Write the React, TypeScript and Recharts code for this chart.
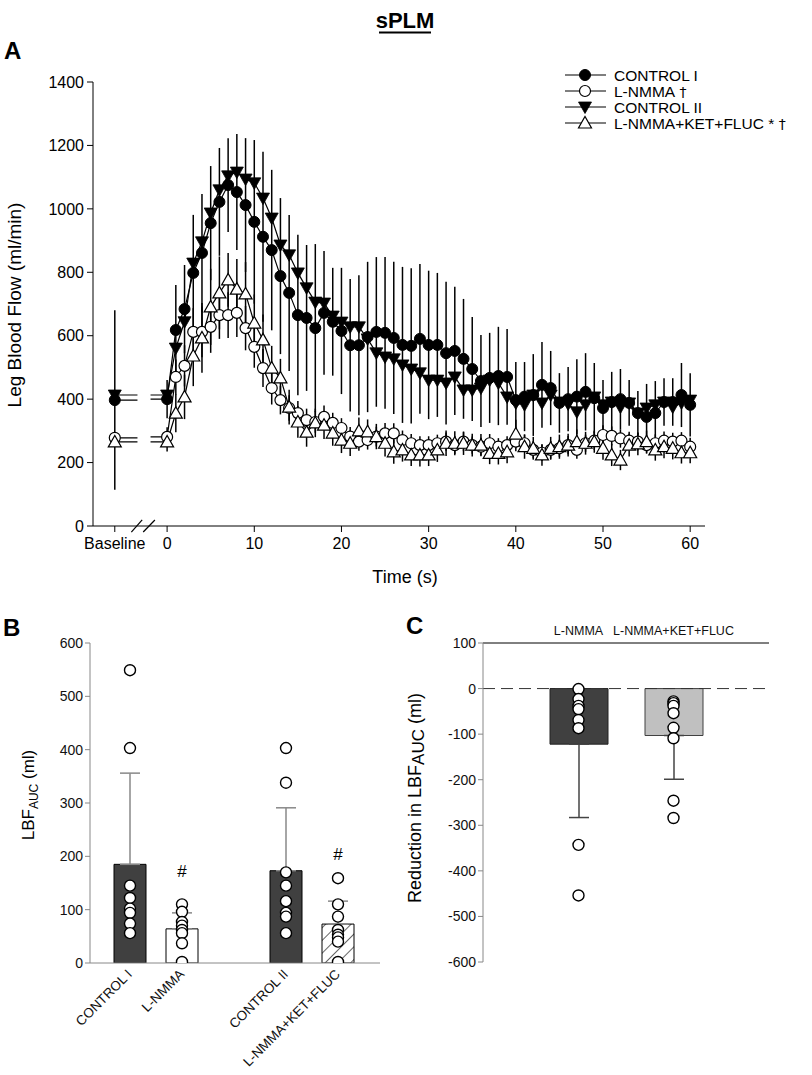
import React from 'react';
import { ComposedChart, Line, Bar, XAxis, YAxis, ErrorBar, ReferenceLine, Cell } from 'recharts';

const FONT = '"Liberation Sans", Arial, Helvetica, sans-serif';

// ---------------- Panel A data ----------------
const timeSec = [0,1,2,3,4,5,6,7,8,9,10,11,12,13,14,15,16,17,18,19,20,21,22,23,24,25,26,27,28,29,30,31,32,33,34,35,36,37,38,39,40,41,42,43,44,45,46,47,48,49,50,51,52,53,54,55,56,57,58,59,60];

const controlI = [400,618,684,798,861,955,1022,1075,1053,1012, 959,912,870,788,735,665,656,624,672,644, 615,570,570,596,612,609,593,571,568,590, 571,571,545,552,527,495,457,467,473,470, 397,408,413,445,435,388,400,408,423,403, 372,391,400,388,356,344,356,391,391,413,382];
const controlIErr = [60,142,139,183,186,180,170,148,183,211, 258,268,253,246,246,253,230,265,195,170, 199,209,221,237,236,239,240,246,245,236, 234,227,225,202,189,164,145,142,155,151, 120,109,129,135,117,94,101,118,122,111, 88,95,95,72,70,104,101,75,75,101,100];

const lnmma = [281,470,505,612,612,628,665,665,672,624, 565,498,435,397,372,356,334,328,344,325, 309,282,266,271,282,292,292,271,261,255, 255,261,266,255,266,255,250,261,250,255, 266,261,240,231,240,245,255,240,261,269, 287,284,276,269,266,255,261,269,266,269,250];
const lnmmaErr = [30,55,65,75,80,82,75,72,76,70, 66,60,52,45,40,38,36,34,36,32, 31,30,29,30,31,33,32,30,29,28, 28,27,29,28,30,27,28,29,27,28, 30,28,27,26,28,27,29,28,27,29, 31,30,29,28,28,27,28,29,28,27,28];

const controlII = [413,561,644,829,896,987,1060,1104,1116,1094, 1082,1034,971,886,855,798,751,706,703,662, 643,628,628,590,546,533,527,508,495,483, 460,460,451,470,429,429,435,460,451,407, 388,382,413,388,413,391,385,360,382,407, 382,391,375,388,356,372,382,391,375,388,397];

const lnmmaKet = [265,356,407,536,593,691,735,776,747,732, 640,587,498,467,375,328,296,325,318,293, 271,261,300,297,282,261,234,240,224,224, 224,240,261,261,261,255,255,229,229,234, 290,250,245,224,245,250,255,266,261,266, 245,224,208,255,259,266,240,250,245,231,231];
const lnmmaKetErr = [30,60,70,95,110,120,115,85,95,100, 90,80,70,60,55,50,46,45,44,40, 41,40,42,39,40,42,38,37,35,36, 35,38,40,38,37,36,35,34,35,36, 45,38,36,34,36,38,36,38,36,35, 36,35,32,36,36,35,34,36,35,34,33];

const baselineValues = [397, 278, 413, 265]; // CONTROL I, L-NMMA, CONTROL II, L-NMMA+KET+FLUC
const baselineErrors = [283, 0, 0, 0];
const baselinePos = -6;
const xTicksA = [-6, 0, 10, 20, 30, 40, 50, 60];
const yTicksA = [0, 200, 400, 600, 800, 1000, 1200, 1400];
const seriesLabelsA = ['CONTROL I', 'L-NMMA', 'CONTROL II', 'L-NMMA+KET+FLUC *'];
const seriesMarksA = ['', ' \u2020', '', ' \u2020'];

// ---------------- Panel B data ----------------
const catsB = ['CONTROL I', 'L-NMMA', '', 'CONTROL II', 'L-NMMA+KET+FLUC'];
const meanB = [185, 64, null, 173, 73];
const errB = [171, 30, null, 118, 43];
const aucControlI = [549, 403, 145, 122, 102, 94, 74, 56];
const aucLnmma = [110, 96, 77, 70, 62, 56, 37, 2];
const aucControlII = [403, 338, 170, 145, 116, 94, 87, 56];
const aucLnmmaKet = [159, 110, 87, 62, 53, 48, 40, 2];
const hashB = [null, 172, null, null, 204];
const yTicksB = [0, 100, 200, 300, 400, 500, 600];

// ---------------- Panel C data ----------------
const catsC = ['L-NMMA', 'L-NMMA+KET+FLUC'];
const meanC = [-122, -103];
const errC = [161, 96];
const redLnmma = [-1, -23, -38, -45, -69, -87, -343, -454];
const redLnmmaKet = [-28, -32, -38, -54, -86, -109, -246, -284];
const yTicksC = [-600, -500, -400, -300, -200, -100, 0, 100];

// ---------------- build tables ----------------
const rowsA = timeSec.map((t, i) => ({
  t,
  ci: controlI[i], ciE: controlIErr[i],
  ln: lnmma[i], lnE: lnmmaErr[i],
  cii: controlII[i],
  lnk: lnmmaKet[i], lnkE: lnmmaKetErr[i],
}));

const kindsA = ['fc', 'oc', 'ft', 'ot'];
const firstValuesA = [controlI[0], lnmma[0], controlII[0], lnmmaKet[0]];

const subjB = [aucControlI, aucLnmma, null, aucControlII, aucLnmmaKet];
const rowsB = catsB.map((name, i) => {
  const r: any = { name, mean: meanB[i], err: errB[i] == null ? null : [0, errB[i]], hash: hashB[i] };
  const s = subjB[i];
  for (let j = 0; j < 8; j++) r['s' + j] = s ? s[j] : null;
  return r;
});
const subjC = [redLnmma, redLnmmaKet];
const rowsC = catsC.map((name, i) => {
  const r: any = { name, mean: meanC[i], err: [errC[i], 0] };
  for (let j = 0; j < 8; j++) r['s' + j] = subjC[i][j];
  return r;
});
const subjKeys = ['s0', 's1', 's2', 's3', 's4', 's5', 's6', 's7'];

// ---------------- markers ----------------
function mark(kind: string, cx: number, cy: number, key: string) {
  if (kind === 'fc') return <circle key={key} cx={cx} cy={cy} r={5.5} fill="#000" stroke="#000" strokeWidth={1} />;
  if (kind === 'oc') return <circle key={key} cx={cx} cy={cy} r={5.5} fill="#fff" stroke="#000" strokeWidth={1.2} />;
  if (kind === 'ft') return <polygon key={key} points={`${cx - 6.5},${cy - 5} ${cx + 6.5},${cy - 5} ${cx},${cy + 6.5}`} fill="#000" stroke="#000" strokeWidth={0.8} />;
  return <polygon key={key} points={`${cx - 6.5},${cy + 5} ${cx + 6.5},${cy + 5} ${cx},${cy - 6.5}`} fill="#fff" stroke="#000" strokeWidth={1.2} />;
}
const dotFn = (kind: string) => (p: any) => {
  if (p.cx == null || p.cy == null || p.value == null || isNaN(p.cx) || isNaN(p.cy)) return <g key={'e' + p.index} />;
  return mark(kind, p.cx, p.cy, kind + p.index);
};
const whiteDot = (p: any) => {
  if (p.cx == null || p.cy == null || p.value == null || isNaN(p.cy)) return <g key={'w' + p.index} />;
  return <circle key={'w' + p.index} cx={p.cx} cy={p.cy} r={5.5} fill="#fff" stroke="#000" strokeWidth={1.4} />;
};

const RotTick = (p: any) => {
  const v = p.payload && p.payload.value;
  if (!v) return <g />;
  const x = p.x + 3;
  const y = p.y + 4;
  return (
    <text x={x} y={y} transform={`rotate(-45 ${x} ${y})`} textAnchor="end" fontSize={13.5} fontFamily={FONT} fill="#111">{v}</text>
  );
};

const HashLabel = (p: any) => {
  if (p.cx == null || p.cy == null || p.value == null || isNaN(p.cy)) return <g key={'h' + p.index} />;
  return <text key={'h' + p.index} x={p.cx} y={p.cy + 6} textAnchor="middle" fontSize={17} fontFamily={FONT} fill="#000">#</text>;
};

export default function App() {
  const tickA = { fill: '#000', fontSize: 16, fontFamily: FONT };
  const tickB = { fill: '#111', fontSize: 14, fontFamily: FONT };
  const gapL = -3.4;
  const gapR = -1.9;
  return (
    <div style={{ position: 'absolute', left: 0, top: 0, width: 812, height: 1075, background: '#fff', fontFamily: FONT }}>
      {/* Panel A */}
      <div style={{ position: 'absolute', left: 0, top: 0 }}>
        <ComposedChart width={812} height={580} data={rowsA} margin={{ top: 82, right: 107, bottom: 24, left: 33 }}>
          <XAxis dataKey="t" type="number" domain={[-8.5, 61.7]} allowDataOverflow ticks={xTicksA}
            tickFormatter={(v: number) => (v === baselinePos ? 'Baseline' : String(v))}
            stroke="#000" tick={tickA} tickSize={6} tickMargin={6} height={30} interval={0} />
          <YAxis type="number" domain={[0, 1400]} ticks={yTicksA} allowDataOverflow width={60} stroke="#000" tick={tickA} tickSize={6} tickMargin={3} />
          {/* broken connectors from baseline */}
          {baselineValues.map((b, i) => (
            <Line key={'conn' + i} data={[{ t: baselinePos, v: b }, { t: gapL, v: b }, { t: -2.6, v: null }, { t: gapR, v: firstValuesA[i] }, { t: 0, v: firstValuesA[i] }]}
              dataKey="v" stroke="#000" strokeWidth={1.2} dot={false} activeDot={false} isAnimationActive={false} connectNulls={false} />
          ))}
          <Line dataKey="ci" stroke="#000" strokeWidth={1.2} dot={dotFn('fc')} activeDot={false} isAnimationActive={false}>
            <ErrorBar dataKey="ciE" direction="y" width={0} stroke="#000" strokeWidth={1.5} />
          </Line>
          <Line dataKey="ln" stroke="#000" strokeWidth={1.2} dot={dotFn('oc')} activeDot={false} isAnimationActive={false}>
            <ErrorBar dataKey="lnE" direction="y" width={0} stroke="#000" strokeWidth={1.5} />
          </Line>
          <Line dataKey="cii" stroke="#000" strokeWidth={1.2} dot={dotFn('ft')} activeDot={false} isAnimationActive={false} />
          <Line dataKey="lnk" stroke="#000" strokeWidth={1.2} dot={dotFn('ot')} activeDot={false} isAnimationActive={false}>
            <ErrorBar dataKey="lnkE" direction="y" width={0} stroke="#000" strokeWidth={1.5} />
          </Line>
          {baselineValues.map((b, i) => (
            <Line key={'base' + i} data={[{ t: baselinePos, v: b, e: baselineErrors[i] }]} dataKey="v" stroke="none"
              dot={dotFn(kindsA[i])} activeDot={false} isAnimationActive={false}>
              <ErrorBar dataKey="e" direction="y" width={0} stroke="#000" strokeWidth={1.5} />
            </Line>
          ))}
          <ReferenceLine segment={[{ x: -4.1, y: -19 }, { x: -2.86, y: 19 }]} stroke="#000" strokeWidth={1.2} ifOverflow="visible" />
          <ReferenceLine segment={[{ x: -2.74, y: -19 }, { x: -1.4, y: 19 }]} stroke="#000" strokeWidth={1.2} ifOverflow="visible" />
        </ComposedChart>
      </div>

      {/* Panel B */}
      <div style={{ position: 'absolute', left: 0, top: 600 }}>
        <ComposedChart width={400} height={475} data={rowsB} margin={{ top: 43, right: 20, bottom: 12, left: 40 }}>
          <defs>
            <pattern id="hatchB" patternUnits="userSpaceOnUse" width={9} height={9} patternTransform="rotate(45)">
              <rect x={0} y={0} width={9} height={9} fill="#fff" />
              <line x1={0} y1={0} x2={0} y2={9} stroke="#000" strokeWidth={1.2} />
            </pattern>
          </defs>
          <XAxis dataKey="name" type="category" padding={{ left: 14, right: 16 }} stroke="#888" tickLine={false} tick={<RotTick />} height={100} interval={0} />
          <YAxis type="number" domain={[0, 600]} ticks={yTicksB} allowDataOverflow width={50} stroke="#888" tick={tickB} tickSize={5} />
          <Bar dataKey="mean" barSize={32} stroke="#000" strokeWidth={1} isAnimationActive={false}>
            {rowsB.map((r, i) => (
              <Cell key={'cb' + i} fill={i === 1 ? '#fff' : i === 4 ? 'url(#hatchB)' : '#404040'} />
            ))}
            <ErrorBar dataKey="err" direction="y" width={10} stroke="#888" strokeWidth={1.5} />
          </Bar>
          {subjKeys.map((k) => (
            <Line key={'lb' + k} dataKey={k} stroke="none" dot={whiteDot} activeDot={false} isAnimationActive={false} />
          ))}
          <Line dataKey="hash" stroke="none" dot={HashLabel} activeDot={false} isAnimationActive={false} />
        </ComposedChart>
      </div>

      {/* Panel C */}
      <div style={{ position: 'absolute', left: 400, top: 600 }}>
        <ComposedChart width={412} height={475} data={rowsC} margin={{ top: 13, right: 43, bottom: 113, left: 33 }}>
          <XAxis dataKey="name" type="category" orientation="top" padding={{ left: 48, right: 48 }} stroke="#000" tickLine={false}
            tick={{ fill: '#111', fontSize: 12.5, fontFamily: FONT }} height={30} interval={0} />
          <YAxis type="number" domain={[-600, 100]} ticks={yTicksC} allowDataOverflow width={50} stroke="#888" tick={tickB} tickSize={5} />
          <Bar dataKey="mean" barSize={58} isAnimationActive={false}>
            <Cell fill="#404040" stroke="#222" />
            <Cell fill="#c0c0c0" stroke="#404040" />
            <ErrorBar dataKey="err" direction="y" width={10} stroke="#444" strokeWidth={1.5} />
          </Bar>
          <ReferenceLine y={0} stroke="#333" strokeDasharray="12 6" strokeWidth={1} />
          {subjKeys.map((k) => (
            <Line key={'lc' + k} dataKey={k} stroke="none" dot={whiteDot} activeDot={false} isAnimationActive={false} />
          ))}
        </ComposedChart>
      </div>

      {/* titles, axis titles, legend */}
      <svg width={812} height={1075} style={{ position: 'absolute', left: 0, top: 0, pointerEvents: 'none' }} fontFamily={FONT}>
        <text x={405} y={28} textAnchor="middle" fontWeight="bold" fontSize={22} fill="#000">sPLM</text>
        <line x1={379} x2={431} y1={32.5} y2={32.5} stroke="#000" strokeWidth={2} />
        <text x={4} y={59} fontWeight="bold" fontSize={24} fill="#000">A</text>
        <text x={3} y={636} fontWeight="bold" fontSize={24} fill="#000">B</text>
        <text x={406} y={634} fontWeight="bold" fontSize={24} fill="#000">C</text>
        <text transform="translate(21,305) rotate(-90)" textAnchor="middle" fontSize={19} fill="#000">Leg Blood Flow (ml/min)</text>
        <text x={405} y={583} textAnchor="middle" fontSize={18} fill="#000">Time (s)</text>
        <text transform="translate(34,795) rotate(-90)" textAnchor="middle" fontSize={17} fill="#000">LBF<tspan fontSize={12} dy={4}>AUC</tspan><tspan dy={-4}> (ml)</tspan></text>
        <text transform="translate(421,798) rotate(-90)" textAnchor="middle" fontSize={18} fill="#000">Reduction in LBF<tspan fontSize={17} dy={3}>AUC</tspan><tspan dy={-3}> (ml)</tspan></text>
        {seriesLabelsA.map((lab, i) => {
          const cy = 75 + i * 16;
          return (
            <g key={'lg' + i}>
              <line x1={565} x2={606} y1={cy} y2={cy} stroke="#000" strokeWidth={1.2} />
              {mark(kindsA[i], 585, cy, 'lm' + i)}
              <text x={614} y={cy + 5.5} fontSize={15.5} fill="#000">{lab}<tspan fontFamily='"DejaVu Sans", sans-serif' fill="#000" fontSize={14}>{seriesMarksA[i]}</tspan></text>
            </g>
          );
        })}
      </svg>
    </div>
  );
}
